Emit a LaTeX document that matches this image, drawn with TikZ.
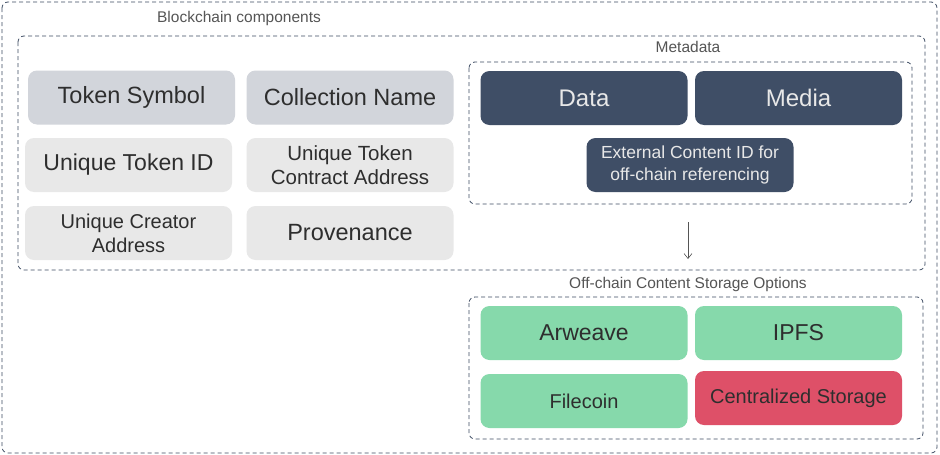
\documentclass[tikz,border=0pt]{standalone}
\usepackage{fontspec}
\setmainfont{Liberation Sans}
\usetikzlibrary{arrows.meta}
\definecolor{dashc}{HTML}{3E4C63}
\definecolor{slate}{HTML}{3F4E66}
\definecolor{greyA}{HTML}{D2D5DB}
\definecolor{greyB}{HTML}{E8E8E8}
\definecolor{greenc}{HTML}{86D9AB}
\definecolor{redc}{HTML}{DE5068}
\definecolor{txt}{HTML}{2E2E2E}
\definecolor{ttl}{HTML}{555555}
\begin{document}
\begin{tikzpicture}[x=1pt,y=-1pt,
  frame/.style={draw=dashc,dashed,dash pattern=on 4pt off 3pt,line width=0.8pt,rounded corners=6pt},
  ttlstyle/.style={text=ttl,font=\fontsize{15.5}{17}\selectfont,inner sep=0pt},
  cell/.style={rounded corners=9pt,minimum width=207pt,minimum height=54pt,inner sep=0pt,align=center,text=txt,font=\fontsize{23.5}{25}\selectfont},
  darkcell/.style={cell,fill=slate,text=greyB},
  greycA/.style={cell,fill=greyA},
  greycB/.style={cell,fill=greyB},
  greencell/.style={cell,fill=greenc},
  redcell/.style={cell,fill=redc}]
\useasboundingbox (0,0) rectangle (940,455);
\fill[white] (0,0) rectangle (940,455);
% frames
\draw[frame] (2,2) rectangle (937,453);
\draw[frame] (18,36) rectangle (925,270);
\draw[frame] (469,62) rectangle (912,204);
\draw[frame] (469,297) rectangle (923,439);
% titles
\node[ttlstyle] (tBC) at (239,18) {Blockchain components};
\node[ttlstyle] (tMD) at (688,47) {Metadata};
\node[ttlstyle] (tOC) at (688,284) {Off-chain Content Storage Options};
% left cells
\node[greycA] (sym) at (131.5,97.5) {Token Symbol};
\node[greycA] (col) at (350,97.5) {Collection Name};
\node[greycB,font=\fontsize{23}{25}\selectfont] (tid) at (128.5,165) {Unique Token ID};
\node[greycB,font=\fontsize{20.5}{24}\selectfont] (tca) at (350,165) {Unique Token\\Contract Address};
\node[greycB,font=\fontsize{20}{24}\selectfont] (cre) at (128.5,233) {Unique Creator\\Address};
\node[greycB] (prov) at (350,233) {Provenance};
% metadata
\node[darkcell,font=\fontsize{24}{26}\selectfont] (data) at (584,98) {Data};
\node[darkcell,font=\fontsize{24}{26}\selectfont] (media) at (798.5,98) {Media};
\node[darkcell,font=\fontsize{17.5}{22}\selectfont] (ext) at (690,165) {External Content ID for\\off-chain referencing};
% arrow
\coordinate (a1) at (688,222);
\coordinate (a2) at (688,259);
\draw[-{Straight Barb[length=5pt,width=8pt]},draw=ttl,line width=0.6pt] (a1) -- (a2);
% storage
\node[greencell,font=\fontsize{23}{25}\selectfont] (arw) at (584,333) {Arweave};
\node[greencell,font=\fontsize{23}{25}\selectfont] (ipfs) at (798.5,333) {IPFS};
\node[greencell,font=\fontsize{20}{22}\selectfont] (fil) at (584,401) {Filecoin};
\node[redcell,font=\fontsize{20}{22}\selectfont] (cen) at (798.5,398) {Centralized Storage};
\end{tikzpicture}
\end{document}
